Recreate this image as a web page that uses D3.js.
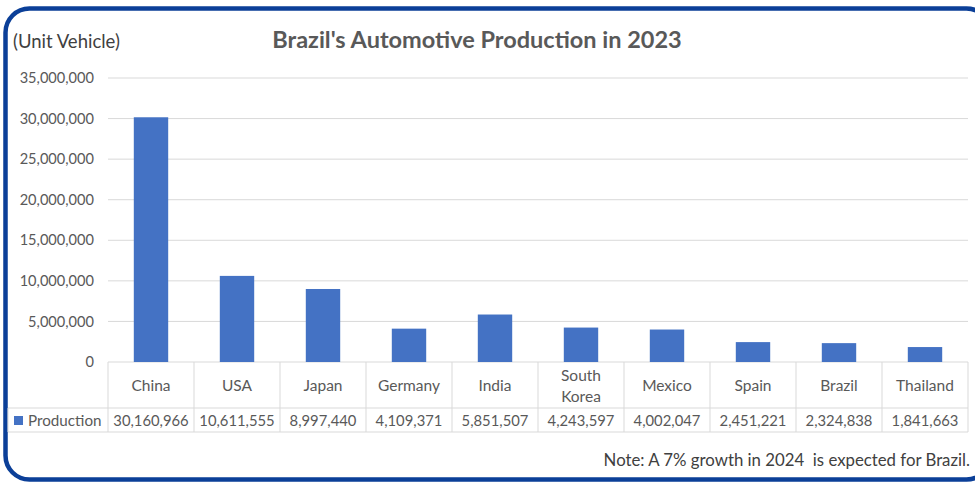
<!DOCTYPE html>
<html>
<head>
<meta charset="utf-8">
<script src="https://cdn.jsdelivr.net/npm/d3@7"></script>
<style>
  body { margin: 0; background: #fff; }
  svg { display: block; font-family: Lato, "Open Sans", sans-serif; }
</style>
</head>
<body>
<script>
const countries = ["China", "USA", "Japan", "Germany", "India", "South Korea", "Mexico", "Spain", "Brazil", "Thailand"]
const production = [30160966, 10611555, 8997440, 4109371, 5851507, 4243597, 4002047, 2451221, 2324838, 1841663]
const yTicks = [0, 5000000, 10000000, 15000000, 20000000, 25000000, 30000000, 35000000]

const width = 975
const height = 483
const blue = "#4472C4"
const grid = "#d9d9d9"
const textCol = "#595959"

let svg = d3.select("body").append("svg")
    .attr("width", width)
    .attr("height", height)

// frame
svg.append("rect")
    .attr("x", 5.5).attr("y", 8.5)
    .attr("width", 985).attr("height", 471)
    .attr("rx", 24)
    .attr("fill", "#fff")
    .attr("stroke", "#0b3f98")
    .attr("stroke-width", 4.5)

const x = d3.scaleBand().domain(countries).range([108, 968]).paddingInner(0.6).paddingOuter(0.3)
const col = d3.scaleBand().domain(countries).range([108, 968])
const y = d3.scaleLinear().domain([0, 35000000]).range([362, 78])

// gridlines
svg.append("g").selectAll("line")
    .data(yTicks).enter()
    .append("line")
        .attr("x1", 108).attr("x2", 968)
        .attr("y1", d => y(d)).attr("y2", d => y(d))
        .attr("stroke", grid).attr("stroke-width", 1)

// y axis labels
let yAxis = svg.append("g")
    .attr("transform", "translate(94,0)")
    .call(d3.axisLeft(y).tickValues(yTicks).tickSize(0).tickPadding(0).tickFormat(d3.format(",")))
yAxis.select(".domain").remove()
yAxis.selectAll("text")
    .attr("font-size", 14.6)
    .attr("font-family", "Lato, sans-serif")
    .attr("fill", textCol)

// bars
svg.append("g").selectAll("rect")
    .data(countries).enter()
    .append("rect")
        .attr("x", d => x(d))
        .attr("width", x.bandwidth())
        .attr("y", (d, i) => y(production[i]))
        .attr("height", (d, i) => y(0) - y(production[i]))
        .attr("fill", blue)

// data table
let table = svg.append("g").attr("stroke", grid).attr("stroke-width", 1)
table.append("line").attr("x1", 8).attr("x2", 968).attr("y1", 408).attr("y2", 408)
table.append("line").attr("x1", 8).attr("x2", 968).attr("y1", 432).attr("y2", 432)
table.append("line").attr("x1", 8).attr("x2", 8).attr("y1", 408).attr("y2", 432)
table.selectAll(".vline")
    .data(countries.concat(["end"])).enter()
    .append("line")
        .attr("x1", d => d === "end" ? 968 : col(d))
        .attr("x2", d => d === "end" ? 968 : col(d))
        .attr("y1", 362).attr("y2", 432)

let catLabels = svg.append("g").selectAll("text")
    .data(countries).enter()
    .append("text")
        .attr("x", d => col(d) + col.bandwidth() / 2)
        .attr("y", 391)
        .attr("text-anchor", "middle")
        .attr("font-size", 15.5)
        .attr("fill", textCol)
catLabels.each(function (d) {
    let words = d.split(" ")
    let t = d3.select(this)
    if (words.length > 1) {
        words.forEach((w, i) => {
            t.append("tspan").attr("x", col(d) + col.bandwidth() / 2)
                .attr("y", 381 + i * 21).text(w)
        })
    } else {
        t.text(d)
    }
})

svg.append("g").selectAll("text")
    .data(countries).enter()
    .append("text")
        .attr("x", d => col(d) + col.bandwidth() / 2)
        .attr("y", 426)
        .attr("text-anchor", "middle")
        .attr("font-size", 14.8)
        .attr("fill", textCol)
        .text((d, i) => d3.format(",")(production[i]))

// legend key in table
svg.append("rect")
    .attr("x", 14).attr("y", 416).attr("width", 9).attr("height", 9)
    .attr("fill", blue)
svg.append("text")
    .attr("x", 28).attr("y", 426)
    .attr("font-size", 15.2)
    .attr("fill", textCol)
    .text("Production")

// titles
svg.append("text")
    .attr("x", 477).attr("y", 48)
    .attr("text-anchor", "middle")
    .attr("font-size", 23.5)
    .attr("font-weight", "bold")
    .attr("fill", textCol)
    .text("Brazil's Automotive Production in 2023")

svg.append("text")
    .attr("x", 13).attr("y", 48)
    .attr("font-size", 18.5)
    .attr("fill", "#404040")
    .text("(Unit Vehicle)")

svg.append("text")
    .attr("x", 970).attr("y", 466)
    .attr("text-anchor", "end")
    .attr("font-size", 16.8)
    .attr("fill", "#404040")
    .text("Note: A 7% growth in 2024  is expected for Brazil.")
    .style("white-space", "pre")
</script>
</body>
</html>
